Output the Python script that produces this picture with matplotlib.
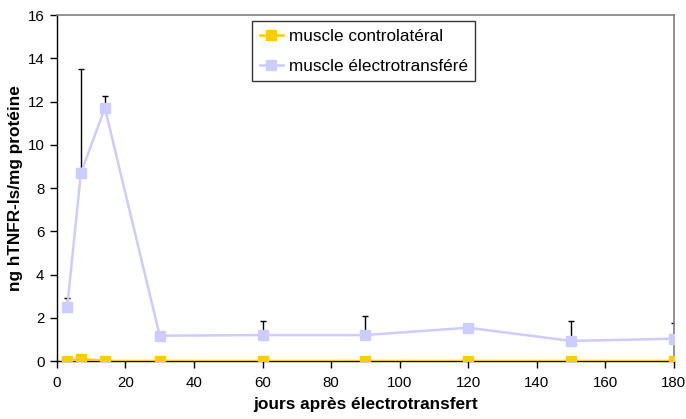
import matplotlib
matplotlib.use("Agg")
import matplotlib.pyplot as plt
import numpy as np

plt.rcParams['font.family'] = ['Liberation Sans', 'DejaVu Sans']

days = [3, 7, 14, 30, 60, 90, 120, 150, 180]
controlateral = [0.0, 0.1, 0.0, 0.0, 0.0, 0.0, 0.0, 0.0, 0.0]
electro = [2.5, 8.7, 11.7, 1.17, 1.2, 1.2, 1.54, 0.93, 1.03]
electro_err = [0.4, 4.8, 0.58, 0.15, 0.64, 0.9, 0.0, 0.91, 0.72]

xticks = list(range(0, 181, 20))
yticks = list(range(0, 17, 2))

fig = plt.figure(figsize=(6.86, 4.19), dpi=100)
ax = fig.add_axes([0.083, 0.1384, 0.899, 0.8256])

ax.errorbar(days, electro, yerr=[np.zeros(len(electro)), electro_err],
            fmt='none', ecolor='black', elinewidth=1, capsize=2.5, capthick=1, zorder=2)
ax.plot(days, electro, color='#CCCCFF', marker='s', markersize=7, linewidth=1.8,
        label='muscle électrotransféré', zorder=3)
ax.plot(days, controlateral, color='#FFCC00', marker='s', markersize=7, linewidth=1.8,
        label='muscle controlatéral', zorder=4)

ax.set_xlim(0, 180)
ax.set_ylim(0, 16)
ax.set_xticks(xticks)
ax.set_yticks(yticks)
ax.tick_params(axis='both', labelsize=10.8, direction='out', length=5, width=1, color='black')
ax.tick_params(axis='x', pad=6)
ax.tick_params(axis='y', pad=4)
for s in ['top', 'right']:
    ax.spines[s].set_color('#808080')
    ax.spines[s].set_linewidth(1.2)
for s in ['left', 'bottom']:
    ax.spines[s].set_color('black')
    ax.spines[s].set_linewidth(1)

ax.set_xlabel('jours après électrotransfert', fontsize=12.4, fontweight='bold', labelpad=5)
ax.set_ylabel('ng hTNFR-Is/mg protéine', fontsize=12.4, fontweight='bold', labelpad=3)

handles, labels = ax.get_legend_handles_labels()
leg = ax.legend(handles[::-1], labels[::-1], loc='upper left', bbox_to_anchor=(0.316, 0.983),
                fontsize=12.3, frameon=True, fancybox=False, edgecolor='black',
                handlelength=1.4, borderpad=0.45, labelspacing=0.88, handletextpad=0.3,
                borderaxespad=0)
leg.get_frame().set_linewidth(1)

fig.savefig('out.png', dpi=100)
